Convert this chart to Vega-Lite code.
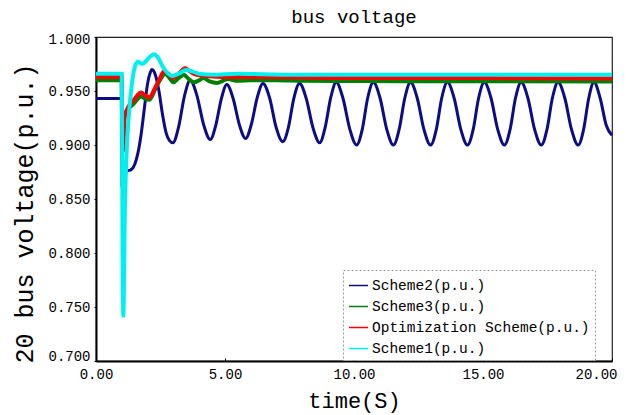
{
  "$schema": "https://vega.github.io/schema/vega-lite/v6.json",
  "width": 516,
  "height": 324,
  "autosize": {"type": "none"},
  "padding": {"left": 96, "top": 37, "right": 18, "bottom": 54},
  "background": "white",
  "title": {"text": "bus voltage", "font": "Liberation Mono", "fontSize": 19, "fontWeight": "normal", "color": "#000", "offset": 5, "anchor": "middle"},
  "config": {
    "view": {"stroke": "#222", "strokeWidth": 1.2},
    "axis": {"grid": false, "labelFont": "Liberation Mono", "labelFontSize": 14, "labelColor": "#000", "titleFont": "Liberation Mono", "titleFontWeight": "normal", "titleColor": "#000", "domainColor": "#000", "domainWidth": 2, "tickColor": "#000"},
    "legend": {"labelFont": "Liberation Mono", "labelFontSize": 14.5, "labelColor": "#000", "labelLimit": 400, "strokeColor": "#999", "strokeDash": [2, 2], "fillColor": "white"}
  },
  "datasets": {
    "s2": [
      {"t": 0, "v": 0.943}, {"t": 1.0, "v": 0.943}, {"t": 1.01, "v": 0.862}, {"t": 1.07, "v": 0.858}, {"t": 1.12, "v": 0.874}, {"t": 1.2, "v": 0.876}, {"t": 1.35, "v": 0.877}, {"t": 1.5, "v": 0.882}, {"t": 1.62, "v": 0.892}, {"t": 1.75, "v": 0.91}, {"t": 1.88, "v": 0.935}, {"t": 2.0, "v": 0.957}, {"t": 2.1, "v": 0.967}, {"t": 2.17, "v": 0.97}, {"t": 2.3, "v": 0.965}, {"t": 2.44, "v": 0.95}, {"t": 2.58, "v": 0.928}, {"t": 2.72, "v": 0.911}, {"t": 2.85, "v": 0.904}, {"t": 2.98, "v": 0.902},
      {"t": 3.2, "v": 0.9165}, {"t": 3.43, "v": 0.9455}, {"t": 3.65, "v": 0.96},
      {"t": 3.91, "v": 0.946}, {"t": 4.17, "v": 0.919}, {"t": 4.43, "v": 0.905},
      {"t": 4.64, "v": 0.918}, {"t": 4.86, "v": 0.943}, {"t": 5.07, "v": 0.956},
      {"t": 5.31, "v": 0.9435}, {"t": 5.56, "v": 0.9185}, {"t": 5.8, "v": 0.906},
      {"t": 6.02, "v": 0.919}, {"t": 6.25, "v": 0.944}, {"t": 6.47, "v": 0.957},
      {"t": 6.73, "v": 0.9435}, {"t": 6.98, "v": 0.9165}, {"t": 7.24, "v": 0.903},
      {"t": 7.46, "v": 0.9165}, {"t": 7.67, "v": 0.9435}, {"t": 7.89, "v": 0.957},
      {"t": 8.15, "v": 0.943}, {"t": 8.41, "v": 0.916}, {"t": 8.67, "v": 0.902},
      {"t": 8.88, "v": 0.916}, {"t": 9.1, "v": 0.944}, {"t": 9.31, "v": 0.958},
      {"t": 9.57, "v": 0.9435}, {"t": 9.84, "v": 0.9145}, {"t": 10.1, "v": 0.9},
      {"t": 10.32, "v": 0.9145}, {"t": 10.53, "v": 0.9435}, {"t": 10.75, "v": 0.958},
      {"t": 11.01, "v": 0.9435}, {"t": 11.27, "v": 0.9145}, {"t": 11.53, "v": 0.9},
      {"t": 11.75, "v": 0.9145}, {"t": 11.97, "v": 0.9435}, {"t": 12.19, "v": 0.958},
      {"t": 12.45, "v": 0.9435}, {"t": 12.71, "v": 0.9145}, {"t": 12.97, "v": 0.9},
      {"t": 13.19, "v": 0.9145}, {"t": 13.4, "v": 0.9435}, {"t": 13.62, "v": 0.958},
      {"t": 13.88, "v": 0.9435}, {"t": 14.14, "v": 0.9145}, {"t": 14.4, "v": 0.9},
      {"t": 14.62, "v": 0.9145}, {"t": 14.83, "v": 0.9435}, {"t": 15.05, "v": 0.958},
      {"t": 15.31, "v": 0.9435}, {"t": 15.57, "v": 0.9145}, {"t": 15.83, "v": 0.9},
      {"t": 16.05, "v": 0.9145}, {"t": 16.26, "v": 0.9435}, {"t": 16.48, "v": 0.958},
      {"t": 16.74, "v": 0.9435}, {"t": 17.0, "v": 0.9145}, {"t": 17.26, "v": 0.9},
      {"t": 17.48, "v": 0.9145}, {"t": 17.69, "v": 0.9435}, {"t": 17.91, "v": 0.958},
      {"t": 18.17, "v": 0.9435}, {"t": 18.43, "v": 0.9145}, {"t": 18.69, "v": 0.9},
      {"t": 18.9, "v": 0.9145}, {"t": 19.1, "v": 0.9435}, {"t": 19.3, "v": 0.958},
      {"t": 19.54, "v": 0.9435}, {"t": 19.78, "v": 0.918}, {"t": 20.0, "v": 0.909}
    ],
    "s3": [
      {"t": 0, "v": 0.96}, {"t": 1.0, "v": 0.96}, {"t": 1.01, "v": 0.905}, {"t": 1.06, "v": 0.908}, {"t": 1.1, "v": 0.925}, {"t": 1.2, "v": 0.931}, {"t": 1.45, "v": 0.938}, {"t": 1.75, "v": 0.945}, {"t": 1.9, "v": 0.943}, {"t": 2.07, "v": 0.942}, {"t": 2.3, "v": 0.952}, {"t": 2.5, "v": 0.961}, {"t": 2.68, "v": 0.966}, {"t": 2.85, "v": 0.962}, {"t": 3.0, "v": 0.958}, {"t": 3.2, "v": 0.962}, {"t": 3.4, "v": 0.965}, {"t": 3.6, "v": 0.961}, {"t": 3.8, "v": 0.958}, {"t": 4.0, "v": 0.96}, {"t": 4.16, "v": 0.962}, {"t": 4.4, "v": 0.959}, {"t": 4.7, "v": 0.9575}, {"t": 5.1, "v": 0.961}, {"t": 5.5, "v": 0.9595}, {"t": 6.0, "v": 0.96}, {"t": 7.0, "v": 0.96}, {"t": 8.0, "v": 0.9595}, {"t": 10.0, "v": 0.9592}, {"t": 12.0, "v": 0.959}, {"t": 15.0, "v": 0.959}, {"t": 20.0, "v": 0.9588}
    ],
    "opt": [
      {"t": 0, "v": 0.963}, {"t": 1.0, "v": 0.963}, {"t": 1.01, "v": 0.9}, {"t": 1.06, "v": 0.895}, {"t": 1.1, "v": 0.925}, {"t": 1.2, "v": 0.933}, {"t": 1.42, "v": 0.94}, {"t": 1.6, "v": 0.946}, {"t": 1.75, "v": 0.9485}, {"t": 1.9, "v": 0.946}, {"t": 2.07, "v": 0.944}, {"t": 2.25, "v": 0.951}, {"t": 2.46, "v": 0.961}, {"t": 2.64, "v": 0.968}, {"t": 2.8, "v": 0.966}, {"t": 2.99, "v": 0.962}, {"t": 3.2, "v": 0.966}, {"t": 3.45, "v": 0.971}, {"t": 3.65, "v": 0.968}, {"t": 3.9, "v": 0.965}, {"t": 4.3, "v": 0.964}, {"t": 5.0, "v": 0.963}, {"t": 6.5, "v": 0.963}, {"t": 8.0, "v": 0.9625}, {"t": 10.0, "v": 0.962}, {"t": 12.0, "v": 0.962}, {"t": 15.0, "v": 0.962}, {"t": 20.0, "v": 0.9615}
    ],
    "s1": [
      {"t": 0, "v": 0.966}, {"t": 1.0, "v": 0.966}, {"t": 1.03, "v": 0.8}, {"t": 1.06, "v": 0.742}, {"t": 1.12, "v": 0.84}, {"t": 1.2, "v": 0.9}, {"t": 1.3, "v": 0.935}, {"t": 1.4, "v": 0.958}, {"t": 1.5, "v": 0.972}, {"t": 1.62, "v": 0.977}, {"t": 1.8, "v": 0.975}, {"t": 1.95, "v": 0.978}, {"t": 2.1, "v": 0.982}, {"t": 2.25, "v": 0.984}, {"t": 2.4, "v": 0.981}, {"t": 2.6, "v": 0.972}, {"t": 2.8, "v": 0.966}, {"t": 2.95, "v": 0.964}, {"t": 3.2, "v": 0.966}, {"t": 3.5, "v": 0.9695}, {"t": 3.75, "v": 0.968}, {"t": 4.0, "v": 0.966}, {"t": 4.5, "v": 0.965}, {"t": 5.5, "v": 0.966}, {"t": 6.5, "v": 0.9655}, {"t": 8.0, "v": 0.965}, {"t": 10.0, "v": 0.965}, {"t": 15.0, "v": 0.965}, {"t": 20.0, "v": 0.965}
    ]
  },
  "encoding": {
    "x": {"field": "t", "type": "quantitative", "scale": {"domain": [0, 20], "nice": false, "zero": false},
      "axis": {"title": "time(S)", "titleFontSize": 22, "titlePadding": 9, "values": [0, 5, 10, 15, 20], "format": ".2f", "tickSize": -3, "labelPadding": 9, "labelAlign": {"expr": "datum.value == 20 ? 'right' : 'center'"}, "labelOffset": {"expr": "datum.value == 20 ? 5 : 0"}}},
    "y": {"field": "v", "type": "quantitative", "scale": {"domain": [0.7, 1.0], "nice": false, "zero": false},
      "axis": {"title": "20 bus voltage(p.u.)", "titleFontSize": 25, "titlePadding": 10, "titleY": 176, "values": [0.7, 0.75, 0.8, 0.85, 0.9, 0.95, 1.0], "format": ".3f", "tickSize": 2, "labelPadding": 4, "labelOffset": {"expr": "datum.value < 0.71 ? -5 : (datum.value > 0.99 ? 2 : 0)"}}}
  },
  "layer": [
    {"data": {"name": "s2"}, "mark": {"type": "line", "interpolate": "monotone", "strokeWidth": 3}, "encoding": {"color": {"datum": "Scheme2(p.u.)", "type": "nominal",
      "scale": {"domain": ["Scheme2(p.u.)", "Scheme3(p.u.)", "Optimization Scheme(p.u.)", "Scheme1(p.u.)"], "range": ["#0c0c86", "#008000", "#ff0000", "#00f0f0"]},
      "legend": {"orient": "none", "legendX": 247, "legendY": 233, "title": null, "symbolType": "stroke", "symbolSize": 361, "symbolStrokeWidth": 1.5, "padding": 5, "rowPadding": 4, "labelOffset": 3}}}},
    {"data": {"name": "s3"}, "mark": {"type": "line", "interpolate": "monotone", "strokeWidth": 4}, "encoding": {"color": {"datum": "Scheme3(p.u.)", "type": "nominal"}}},
    {"data": {"name": "opt"}, "mark": {"type": "line", "interpolate": "monotone", "strokeWidth": 4}, "encoding": {"color": {"datum": "Optimization Scheme(p.u.)", "type": "nominal"}}},
    {"data": {"name": "s1"}, "mark": {"type": "line", "interpolate": "monotone", "strokeWidth": 4}, "encoding": {"color": {"datum": "Scheme1(p.u.)", "type": "nominal"}}}
  ]
}
